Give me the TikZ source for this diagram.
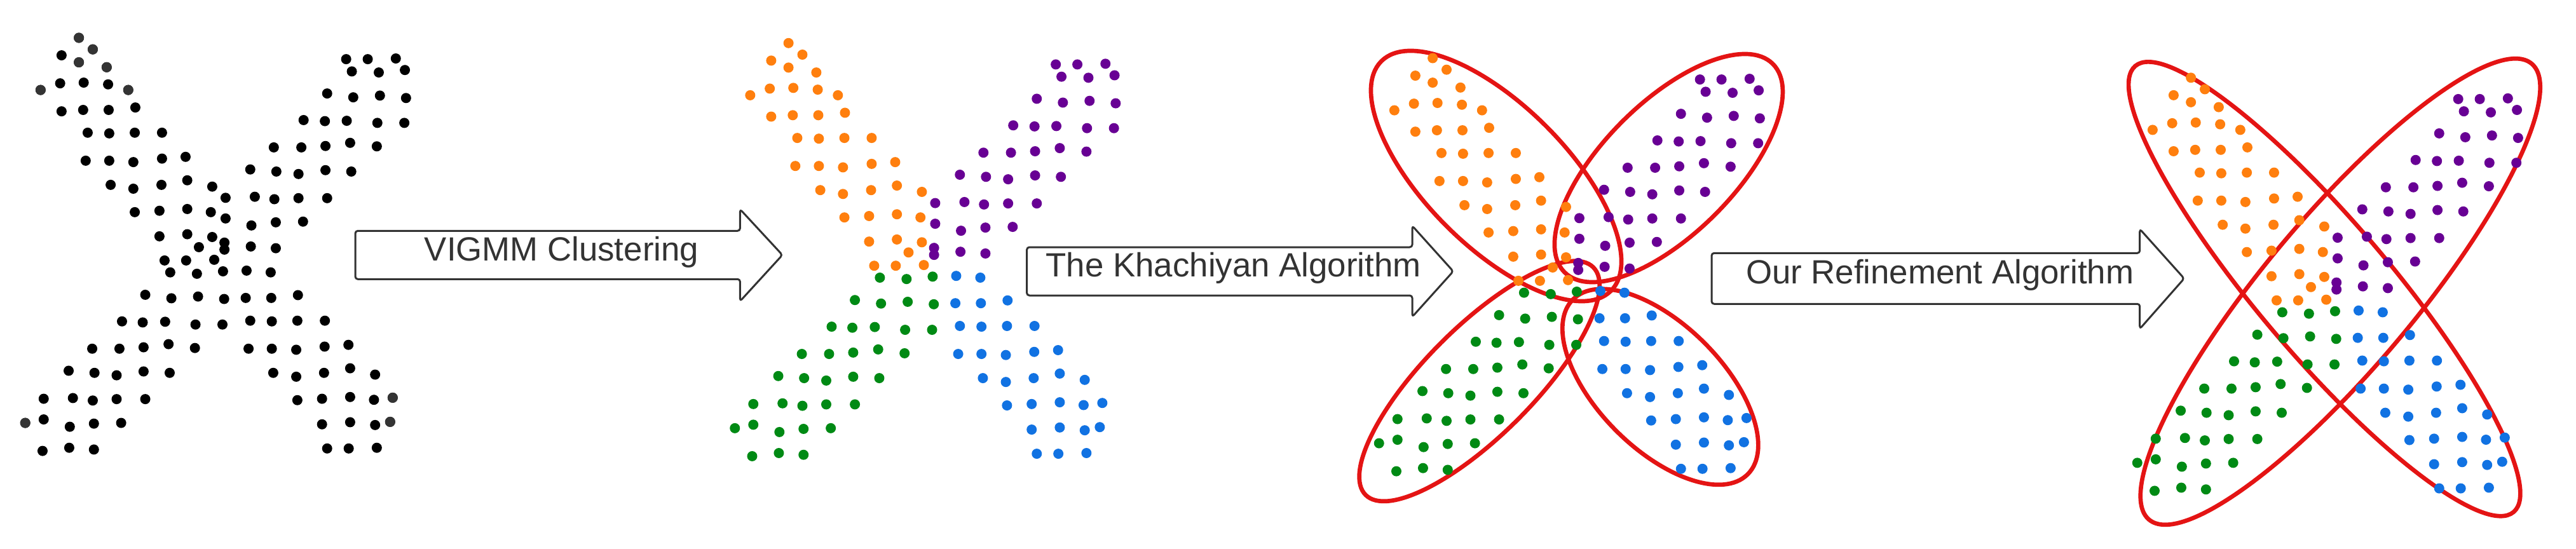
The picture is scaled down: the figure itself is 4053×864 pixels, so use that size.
\documentclass[tikz,border=0pt]{standalone}
\usepackage{fontspec}
\setmainfont{Liberation Sans}
\definecolor{cOr}{RGB}{255,127,14}
\definecolor{cPu}{RGB}{104,0,148}
\definecolor{cGr}{RGB}{0,138,20}
\definecolor{cBl}{RGB}{17,114,226}
\definecolor{cRed}{RGB}{228,20,20}
\definecolor{cInk}{RGB}{51,51,51}
\definecolor{cGy}{RGB}{52,52,52}
\newcommand\ptsOr{278/108,327/141,217/158,278/178,376/192,143/257,212/238,295/236,381/241,452/257,217/318,293/314,383/314,477/307,309/379,385/381,475/379,571/379,302/459,385/459,470/463,571/453,654/448,390/528,470/539,569/528,660/515,748/533,475/606,562/602,660/597,743/606,562/675,660/669,748/677,701/706,580/744,656/744,755/742}
\newcommand\ptsPu{795/565,795/624,791/693,791/713,1220/169,1296/169,1395/167,1240/204,1335/207,1427/200,1153/267,1245/278,1339/273,1431/280,1070/343,1145/346,1222/345,1330/351,1425/351,965/421,1062/421,1147/417,1234/408,1328/418,882/484,974/490,1052/497,1147/486,1238/490,898/562,967/569,1052/566,1153/566,886/644,972/635,1068/633,884/704,972/709}
\newcommand\ptsGr{600/778,694/782,786/775,512/842,604/852,698/847,790/854,430/918,503/921,582/919,689/927,784/927,325/996,421/996,506/992,594/983,687/994,242/1059,333/1065,411/1072,506/1061,598/1065,154/1139,257/1137,327/1144,411/1140,512/1140,89/1208,154/1198,246/1219,331/1210,427/1208,150/1288,244/1279,331/1284}
\newcommand\ptsBl{869/773,954/778,866/851,956/851,1050/843,882/916,958/918,1048/916,1145/916,876/996,958/996,1044/999,1144/990,1228/985,963/1065,1044/1076,1142/1065,1234/1052,1322/1070,1048/1143,1135/1139,1234/1134,1318/1142,1384/1136,1135/1212,1234/1206,1322/1214,1375/1205,1153/1281,1229/1281,1328/1279}
\newcommand\ptsGy{278/108,327/141,278/178,376/192,143/257,452/257,89/1208,1384/1136,1375/1205}
\newcommand\dotset[4]{\foreach \px/\py in #1 {\fill[#2] ({\px/2.24+#3},{\py/1.815+#4}) circle[radius=8pt];}}
\tikzset{
  arrowline/.style={draw=cInk, line width=3pt, rounded corners=4pt, fill=white, line join=round},
  label/.style={anchor=base west, inner sep=0pt, text=cInk, font=\fontsize{52.8pt}{60pt}\selectfont},
  redell/.style={draw=cRed, line width=6.7pt}
}
\begin{document}
\begin{tikzpicture}[x=1pt,y=-1pt]
\useasboundingbox (0,0) rectangle (4053,864);
% panel 1
\dotset{\ptsOr}{black}{0}{0}
\dotset{\ptsPu}{black}{0}{0}
\dotset{\ptsGr}{black}{0}{0}
\dotset{\ptsBl}{black}{0}{0}
\dotset{\ptsGy}{cGy}{0}{0}
% panel 2
\dotset{\ptsOr}{cOr}{1116.5}{8.3}
\dotset{\ptsPu}{cPu}{1116.5}{8.3}
\dotset{\ptsGr}{cGr}{1116.5}{8.3}
\dotset{\ptsBl}{cBl}{1116.5}{8.3}
% panel 3
\draw[redell, rotate around={-45:(2354,277)}] (2354,277) ellipse [x radius=255.5pt, y radius=111pt];
\draw[redell, rotate around={45:(2625.4,264.5)}] (2625.4,264.5) ellipse [x radius=231.8pt, y radius=103.4pt];
\draw[redell, rotate around={45:(2327.7,599.8)}] (2327.7,599.8) ellipse [x radius=253.3pt, y radius=85.4pt];
\draw[redell, rotate around={-45:(2612.3,608.8)}] (2612.3,608.8) ellipse [x radius=194.5pt, y radius=98pt];
\dotset{\ptsOr}{cOr}{2130}{32}
\dotset{\ptsPu}{cPu}{2130}{32}
\dotset{\ptsGr}{cGr}{2130}{32}
\dotset{\ptsBl}{cBl}{2130}{32}
% panel 4
\draw[redell, rotate around={-49.7:(3657.2,454.8)}] (3657.2,454.8) ellipse [x radius=460.2pt, y radius=104.2pt];
\draw[redell, rotate around={50:(3682.2,459)}] (3682.2,459) ellipse [x radius=468.3pt, y radius=118.5pt];
\dotset{\ptsOr}{cOr}{3323}{62.8}
\dotset{\ptsPu}{cPu}{3323}{62.8}
\dotset{\ptsGr}{cGr}{3323}{62.8}
\dotset{\ptsBl}{cBl}{3323}{62.8}
% arrows
\draw[arrowline] (559,363.3) -- (1164.4,363.3) -- (1164.4,329.3) -- (1231,401.3) -- (1164.4,474) -- (1164.4,439.3) -- (559,439.3) -- cycle;
\node[label] (t1) at (667.6,410) {VIGMM Clustering};
\draw[arrowline] (1615.6,389) -- (2222,389) -- (2222,355.4) -- (2286.5,427) -- (2222,498.6) -- (2222,465) -- (1615.6,465) -- cycle;
\node[label] (t2) at (1645.5,435.3) {The Khachiyan Algorithm};
\draw[arrowline] (2693,398.3) -- (3366.7,398.3) -- (3366.7,360.5) -- (3436.5,438.3) -- (3366.7,517.5) -- (3366.7,478.3) -- (2693,478.3) -- cycle;
\node[label] (t3) at (2746.8,446.7) {Our Refinement Algorithm};
\end{tikzpicture}
\end{document}
